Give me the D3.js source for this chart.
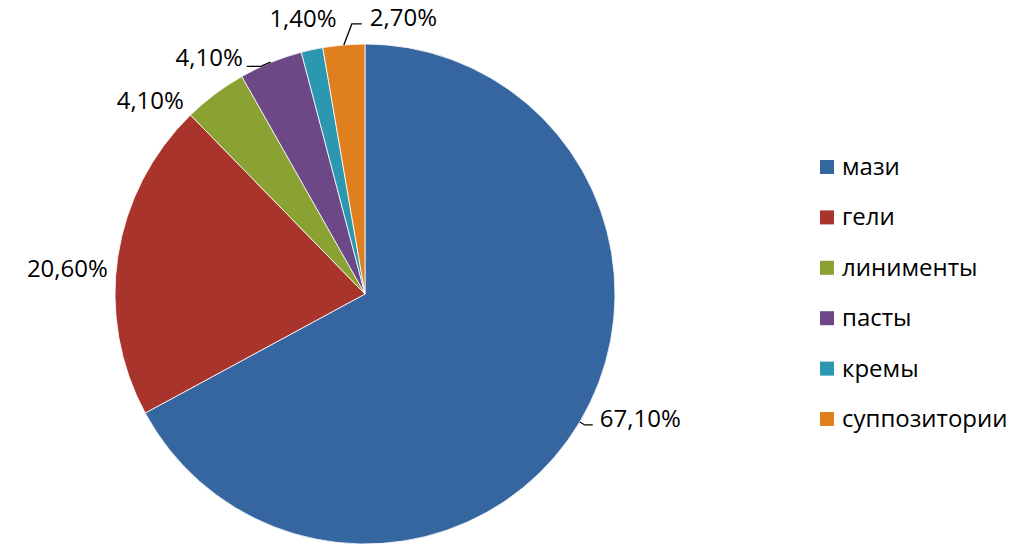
<!DOCTYPE html>
<html>
<head>
<meta charset="utf-8">
<script src="https://cdn.jsdelivr.net/npm/d3@7"></script>
<style>
  body { margin: 0; background: #fff; }
  text { font-family: "Open Sans", sans-serif; fill: #000; }
</style>
</head>
<body>
<svg id="chart" width="1029" height="549"></svg>
<script>
// data
const categories = ["мази", "гели", "линименты", "пасты", "кремы", "суппозитории"];
const shares = [67.1, 20.6, 4.1, 4.1, 1.4, 2.7];
const labels = ["67,10%", "20,60%", "4,10%", "4,10%", "1,40%", "2,70%"];
const colors = ["#3566A0", "#A9342C", "#8AA231", "#6C4886", "#2C97B1", "#E07F1E"];

// label placement relative to the slice's outer edge point (Excel "best fit")
// dx,dy: text anchor offset; leader: bend points relative to the edge
const labelLayout = [
  {dx: 20, dy: 5, anchor: "start", leader: [[5, 3], [13, 3]]},
  {dx: -10, dy: 21, anchor: "end", leader: null},
  {dx: -31, dy: 15, anchor: "end", leader: null},
  {dx: -28, dy: 4, anchor: "end", leader: [[-1, 0], [-10, 4], [-24, 4]]},
  {dx: -9, dy: -23, anchor: "middle", leader: null},
  {dx: 26, dy: -19, anchor: "start", leader: [[8, -21], [18, -21]]}
];

const width = 1029, height = 549;
const cx = 365, cy = 294, radius = 250;
const fontPx = 24;

const svg = d3.select("#chart");

const pie = d3.pie().sort(null).value(d => d)(shares);
const arc = d3.arc().innerRadius(0).outerRadius(radius);

const g = svg.append("g").attr("transform", `translate(${cx},${cy})`);

g.selectAll("path.slice")
  .data(pie)
  .enter()
  .append("path")
    .attr("class", "slice")
    .attr("d", arc)
    .attr("fill", (d, i) => colors[i])
    .attr("stroke", "#fff")
    .attr("stroke-width", 0.8);

// edge point of each slice on the middle angle
const edge = d => {
  const a = (d.startAngle + d.endAngle) / 2;
  return [radius * Math.sin(a), -radius * Math.cos(a)];
};

const lbl = g.append("g").attr("class", "labels");

pie.forEach((d, i) => {
  const [ex, ey] = edge(d);
  const lay = labelLayout[i];
  if (lay.leader) {
    const pts = [[ex, ey]].concat(lay.leader.map(p => [ex + p[0], ey + p[1]]));
    lbl.append("path")
      .attr("d", d3.line()(pts))
      .attr("fill", "none")
      .attr("stroke", "#000")
      .attr("stroke-width", 1.3);
  }
  lbl.append("text")
    .attr("x", ex + lay.dx)
    .attr("y", ey + lay.dy)
    .attr("text-anchor", lay.anchor)
    .attr("font-size", fontPx)
    .text(labels[i]);
});

// legend
const legend = svg.append("g").attr("transform", "translate(820,167)");
const rowStep = 50.4;
const item = legend.selectAll("g.item")
  .data(categories)
  .enter()
  .append("g")
    .attr("class", "item")
    .attr("transform", (d, i) => `translate(0,${i * rowStep})`);

item.append("rect")
  .attr("x", 0).attr("y", -7)
  .attr("width", 14).attr("height", 14)
  .attr("fill", (d, i) => colors[i]);

item.append("text")
  .attr("x", 22).attr("y", 8)
  .attr("font-size", fontPx)
  .text(d => d);
</script>
</body>
</html>
